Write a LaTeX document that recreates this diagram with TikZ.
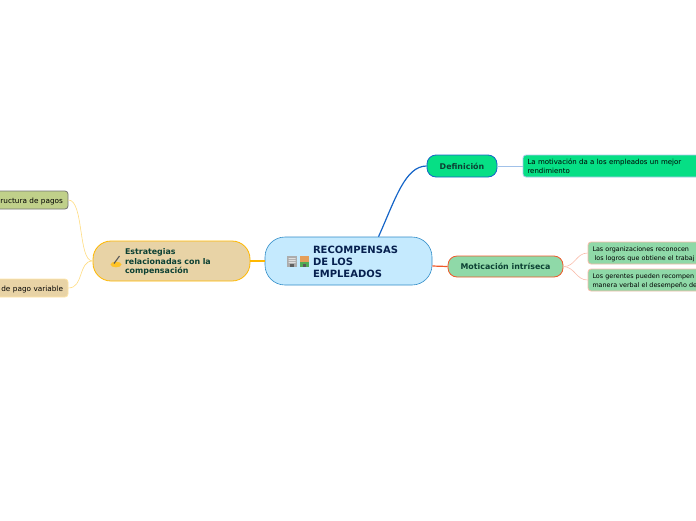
\documentclass[tikz,border=0pt]{standalone}
\usepackage{fontspec}
\setmainfont{DejaVu Sans}
\usetikzlibrary{positioning}
\definecolor{rootFill}{HTML}{C5EAFE}
\definecolor{rootLine}{HTML}{2F8CC8}
\definecolor{rootText}{HTML}{06204F}
\definecolor{nodeText}{HTML}{0C4033}
\definecolor{sandFill}{HTML}{E8D3A6}
\definecolor{sandLine}{HTML}{FFB800}
\definecolor{mintFill}{HTML}{8FD9A8}
\definecolor{redLine}{HTML}{F0582A}
\definecolor{jadeFill}{HTML}{06DF85}
\definecolor{blueLine}{HTML}{1565C8}
\definecolor{oliveFill}{HTML}{C0D08A}
\newcommand{\topgap}[1]{\rule{0pt}{#1}}
\tikzset{
    x=1pt, y=-1pt,
    % Colors
    compRoot/.style={draw=rootLine, fill=rootFill, text=rootText},
    compSand/.style={draw=sandLine, fill=sandFill, text=nodeText},
    compMint/.style={draw=redLine, fill=mintFill, text=nodeText},
    compJade/.style={draw=blueLine, fill=jadeFill, text=nodeText},
    % Shapes
    rootBox/.style={rectangle, rounded corners=20pt, line width=0.6pt, inner sep=0pt,
                 minimum height=48pt, text width=167pt, align=left, compRoot,
                 font=\fontsize{10}{12.2}\selectfont\bfseries},
    mainBox/.style={rectangle, rounded corners=9pt, line width=0.8pt, inner sep=0pt,
                 align=center, font=\fontsize{7.9}{9.3}\selectfont\bfseries},
    leafBox/.style={rectangle, rounded corners=3pt, line width=0.8pt, inner sep=0pt,
                 minimum height=22pt, text=black, font=\fontsize{6.4}{8.8}\selectfont},
    % Flow
    flow/.style={line width=1.2pt},
    twig/.style={line width=0.6pt}
}
\begin{document}
\begin{tikzpicture}
\useasboundingbox (0,0) rectangle (696,520);

\node[rootBox] (root) at (348.5,261) {\topgap{9.5pt}\hspace*{48pt}RECOMPENSAS\\\hspace*{48pt}DE LOS\\\hspace*{48pt}EMPLEADOS};
\node[mainBox, compSand, rounded corners=18pt, minimum height=40pt, text width=157pt, align=left] (estr) at (171.5,261)
    {\topgap{8pt}\hspace*{32pt}Estrategias\\\hspace*{32pt}relacionadas con la\\\hspace*{32pt}compensación};
\node[mainBox, compMint, minimum width=115pt, minimum height=21pt] (moti) at (505.5,266.5) {Moticación intríseca};
\node[mainBox, compJade, minimum width=70pt, minimum height=22pt] (defi) at (462,166) {Definición};

\node[leafBox, fill=jadeFill, draw=blueLine!35, text width=180pt, align=left, font=\fontsize{7}{8.8}\selectfont] (defiLeaf) at (613,166)
    {\topgap{6.5pt}\hspace*{4.5pt}La motivación da a los empleados un mejor\\\hspace*{4.5pt}rendimiento};
\node[leafBox, fill=mintFill, draw=redLine!40, text width=120pt, align=left] (motiLeafA) at (648,253)
    {\topgap{7pt}\hspace*{4.5pt}Las organizaciones reconocen\\\hspace*{4.5pt} los logros que obtiene el trabaj};
\node[leafBox, fill=mintFill, draw=redLine!40, text width=120pt, align=left] (motiLeafB) at (648,280)
    {\topgap{7pt}\hspace*{4.5pt}Los gerentes pueden recompen\\\hspace*{4.5pt}manera verbal el desempeño de};
\node[leafBox, fill=oliveFill, draw=black!55, minimum height=18pt, text width=90pt, align=right, font=\fontsize{7.3}{9}\selectfont] (estrLeafA) at (23,200)
    {\topgap{8.5pt}ructura de pagos\hspace*{5pt}};
\node[leafBox, fill=sandFill, draw=sandLine!35, minimum height=18pt, text width=90pt, align=right, font=\fontsize{7.3}{9}\selectfont] (estrLeafB) at (23,288)
    {\topgap{8.5pt}de pago variable\hspace*{5pt}};

\draw[flow, blueLine] (root.39.5) .. controls (395,200) and (405,166) .. (defi.west);
\draw[flow, sandLine] (estr.east) -- (root.west);
\draw[flow, redLine] (root.east |- 0,266) -- (moti.west);
\draw[twig, blueLine!40] (defi.east) -- (defiLeaf.west);
\draw[twig, redLine!40] (moti.east) .. controls (575,267) and (576,253) .. (motiLeafA.west);
\draw[twig, redLine!40] (moti.east) .. controls (575,267) and (576,280) .. (motiLeafB.west);
\draw[twig, sandLine!50] (estr.west) .. controls (78,261) and (84,200) .. (estrLeafA.east);
\draw[twig, sandLine!50] (estr.west) .. controls (78,261) and (84,288) .. (estrLeafB.east);

% icons
\fill[gray!65] (287,256) rectangle (297,267);
\fill[gray!25] (288.5,258) rectangle (295.5,259) (288.5,260) rectangle (295.5,261) (288.5,262) rectangle (295.5,263);
\fill[gray!75!black] (290,264) rectangle (294,267);
\fill[brown!55!orange!75] (300,256) rectangle (309,262);
\fill[green!35!gray] (300,262) rectangle (309,267);
\fill[black!65] (303,264) rectangle (306,267);
\fill[orange!55!yellow!85] (116,264.5) ellipse (5.5 and 2.8);
\draw[gray!70!black, line width=1.1pt] (114,263.5) -- (119.5,256);

\end{tikzpicture}
\end{document}
